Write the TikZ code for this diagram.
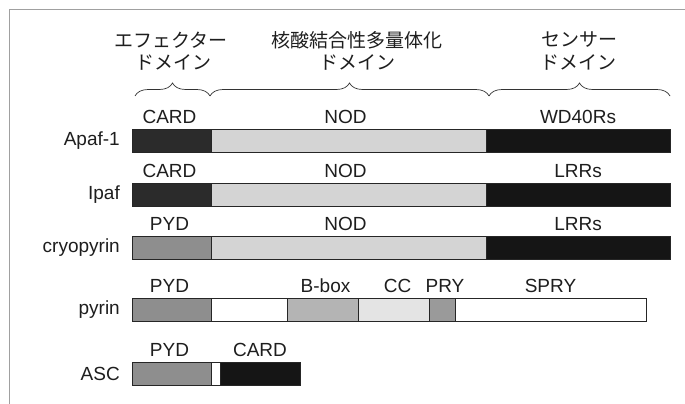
\documentclass[tikz,border=0pt]{standalone}
\usepackage{fontspec}
\setmainfont{Liberation Sans}
\newfontfamily\jpfont{Noto Sans CJK JP}
\usetikzlibrary{decorations.pathreplacing}
\definecolor{cardc}{HTML}{2B2B2B}
\definecolor{nodc}{HTML}{D4D4D4}
\definecolor{blkc}{HTML}{151515}
\definecolor{pydc}{HTML}{8E8E8E}
\definecolor{bboxc}{HTML}{B4B4B4}
\definecolor{ccc}{HTML}{E4E4E4}
\definecolor{pryc}{HTML}{9A9A9A}
\definecolor{framec}{HTML}{A0A0A0}
\definecolor{txtc}{HTML}{1E1E1E}
\begin{document}
\begin{tikzpicture}[x=1pt,y=-1pt,
  seg/.style={draw=black!85, line width=0.8pt, minimum height=23pt, inner sep=0pt, outer sep=0pt, anchor=north west},
  lbl/.style={font=\fontsize{19}{21}\selectfont, text=txtc, inner sep=0pt, anchor=base},
  rowlbl/.style={font=\fontsize{19}{21}\selectfont, text=txtc, inner sep=0pt, anchor=east},
  jplbl/.style={font=\jpfont\fontsize{19}{21}\selectfont, text=txtc, inner sep=0pt},
  brc/.style={decorate, decoration={brace, amplitude=13pt}, line width=0.7pt, draw=black!80},
]
\useasboundingbox (0,0) rectangle (685,404);
\fill[white] (0,0) rectangle (685,404);
\draw[framec, line width=0.8pt] (9,404) -- (9,9) -- (685,9);

% headings
\node[jplbl] (h1a) at (171,40) {エフェクター};
\node[jplbl] (h1b) at (173,62) {ドメイン};
\node[jplbl] (h2a) at (357,40) {核酸結合性多量体化};
\node[jplbl] (h2b) at (357,62) {ドメイン};
\node[jplbl] (h3a) at (579,40) {センサー};
\node[jplbl] (h3b) at (578,62) {ドメイン};

% braces
\coordinate (b0) at (135,96);
\coordinate (b1) at (210,96);
\coordinate (b2) at (489,96);
\coordinate (b3) at (670,96);
\draw[brc] (b0) -- (b1);
\draw[brc] (b1) -- (b2);
\draw[brc] (b2) -- (b3);

% Apaf-1
\node[seg, fill=cardc, minimum width=79pt] (a1) at (132,129) {};
\node[seg, fill=nodc, minimum width=275pt] (a2) at (a1.north east) {};
\node[seg, fill=blkc, minimum width=184pt] (a3) at (a2.north east) {};
\node[rowlbl] (ra) at ([xshift=-12pt]a1.west) {Apaf-1};
\node[lbl] (la1) at ([yshift=6pt,xshift=-2pt]a1.north) {CARD};
\node[lbl] (la2) at ([yshift=6pt,xshift=-3pt]a2.north) {NOD};
\node[lbl] (la3) at ([yshift=6pt]a3.north) {WD40Rs};

% Ipaf
\node[seg, fill=cardc, minimum width=79pt] (i1) at (132,183) {};
\node[seg, fill=nodc, minimum width=275pt] (i2) at (i1.north east) {};
\node[seg, fill=blkc, minimum width=184pt] (i3) at (i2.north east) {};
\node[rowlbl] (ri) at ([xshift=-12pt]i1.west) {Ipaf};
\node[lbl] (li1) at ([yshift=6pt,xshift=-2pt]i1.north) {CARD};
\node[lbl] (li2) at ([yshift=6pt,xshift=-3pt]i2.north) {NOD};
\node[lbl] (li3) at ([yshift=6pt]i3.north) {LRRs};

% cryopyrin
\node[seg, fill=pydc, minimum width=79pt] (c1) at (132,236) {};
\node[seg, fill=nodc, minimum width=275pt] (c2) at (c1.north east) {};
\node[seg, fill=blkc, minimum width=184pt] (c3) at (c2.north east) {};
\node[rowlbl] (rc) at ([xshift=-12pt]c1.west) {cryopyrin};
\node[lbl] (lc1) at ([yshift=6pt,xshift=-2pt]c1.north) {PYD};
\node[lbl] (lc2) at ([yshift=6pt,xshift=-3pt]c2.north) {NOD};
\node[lbl] (lc3) at ([yshift=6pt]c3.north) {LRRs};

% pyrin
\node[seg, fill=pydc, minimum width=79pt] (p1) at (132,298) {};
\node[seg, fill=white, minimum width=76pt] (p2) at (p1.north east) {};
\node[seg, fill=bboxc, minimum width=71pt] (p3) at (p2.north east) {};
\node[seg, fill=ccc, minimum width=71pt] (p4) at (p3.north east) {};
\node[seg, fill=pryc, minimum width=26pt] (p5) at (p4.north east) {};
\node[seg, fill=white, minimum width=191pt] (p6) at (p5.north east) {};
\node[rowlbl] (rp) at ([xshift=-12pt]p1.west) {pyrin};
\node[lbl] (lp1) at ([yshift=6pt,xshift=-2pt]p1.north) {PYD};
\node[lbl] (lp3) at ([yshift=6pt,xshift=3pt]p3.north) {B-box};
\node[lbl] (lp4) at ([yshift=6pt,xshift=4pt]p4.north) {CC};
\node[lbl] (lp5) at ([yshift=6pt,xshift=3pt]p5.north) {PRY};
\node[lbl] (lp6) at ([yshift=6pt]p6.north) {SPRY};

% ASC
\node[seg, fill=pydc, minimum width=79pt] (s1) at (132,362) {};
\node[seg, fill=white, minimum width=9pt] (s2) at (s1.north east) {};
\node[seg, fill=blkc, minimum width=80pt] (s3) at (s2.north east) {};
\node[rowlbl] (rs) at ([xshift=-12pt]s1.west) {ASC};
\node[lbl] (ls1) at ([yshift=6pt,xshift=-2pt]s1.north) {PYD};
\node[lbl] (ls3) at ([yshift=6pt]s3.north) {CARD};
\end{tikzpicture}
\end{document}
